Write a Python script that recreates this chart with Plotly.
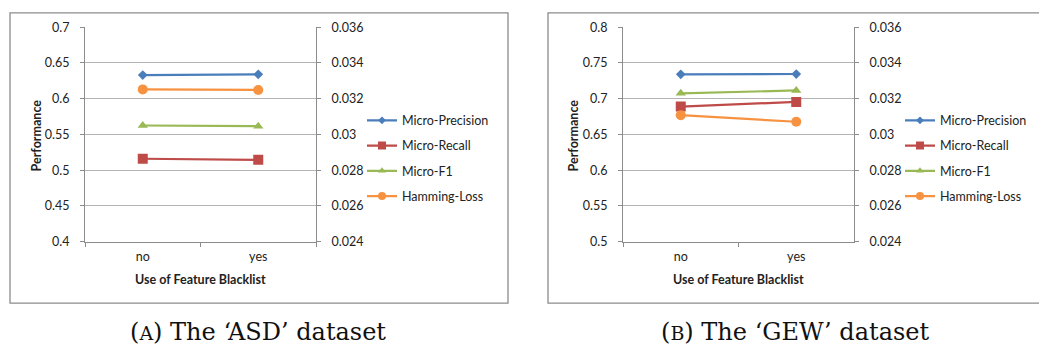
import plotly.graph_objects as go

W, H = 1039, 357

categories = ["no", "yes"]
series_names = ["Micro-Precision", "Micro-Recall", "Micro-F1", "Hamming-Loss"]

asd_precision = [0.633, 0.634]
asd_recall = [0.516, 0.5145]
asd_f1 = [0.5625, 0.5615]
asd_hamming = [0.03252, 0.03249]

gew_precision = [0.734, 0.7345]
gew_recall = [0.689, 0.6955]
gew_f1 = [0.7075, 0.7115]
gew_hamming = [0.03108, 0.03071]

asd_left_ticks = [0.4, 0.45, 0.5, 0.55, 0.6, 0.65, 0.7]
asd_left_labels = ["0.4", "0.45", "0.5", "0.55", "0.6", "0.65", "0.7"]
gew_left_ticks = [0.5, 0.55, 0.6, 0.65, 0.7, 0.75, 0.8]
gew_left_labels = ["0.5", "0.55", "0.6", "0.65", "0.7", "0.75", "0.8"]
right_ticks = [0.024, 0.026, 0.028, 0.030, 0.032, 0.034, 0.036]
right_labels = ["0.024", "0.026", "0.028", "0.03", "0.032", "0.034", "0.036"]

captions = ["(<span style='font-size:19px'>A</span>) The ‘ASD’ dataset",
            "(<span style='font-size:19px'>B</span>) The ‘GEW’ dataset"]
x_title = "Use of Feature Blacklist"
y_title = "Performance"

colors = ["#4A7EBB", "#BE4B48", "#98B954", "#F69240"]
symbols = ["diamond", "square", "triangle-up", "circle"]
sizes = [7.5, 10, 9, 10]
legend_sizes = [6, 8, 7, 8]

FONT = "Lato"
TXT = "#222222"
GRID = "#B3B3B3"
AXL = "#8C8C8C"

panels = [
    dict(series=[asd_precision, asd_recall, asd_f1, asd_hamming],
         lt=asd_left_ticks, ll=asd_left_labels,
         px0=85, px1=316, frame=(10, 508), legx=362, ytitle_x=36, caption_x=258),
    dict(series=[gew_precision, gew_recall, gew_f1, gew_hamming],
         lt=gew_left_ticks, ll=gew_left_labels,
         px0=623, px1=854, frame=(548, 1041), legx=900, ytitle_x=573, caption_x=795),
]

fig = go.Figure()
top, bot = 20, 244
ydom = [1 - bot / H, 1 - top / H]
annotations = []
shapes = []

for i, p in enumerate(panels):
    xa = "x" if i == 0 else "x2"
    ya_l = "y" if i == 0 else "y3"
    ya_r = "y2" if i == 0 else "y4"
    leg = "legend" if i == 0 else "legend2"
    for k, name in enumerate(series_names):
        fig.add_trace(go.Scatter(
            x=categories, y=p["series"][k], name=name, mode="lines+markers",
            line=dict(color=colors[k], width=2.2),
            marker=dict(symbol=symbols[k], size=sizes[k], color=colors[k]),
            xaxis=xa, yaxis=(ya_r if k == 3 else ya_l),
            showlegend=False,
        ))
        # legend entry with smaller marker (as in the original legend)
        fig.add_trace(go.Scatter(
            x=[None], y=[None], name=name, mode="lines+markers",
            line=dict(color=colors[k], width=2.2),
            marker=dict(symbol=symbols[k], size=legend_sizes[k], color=colors[k]),
            xaxis=xa, yaxis=(ya_r if k == 3 else ya_l),
            legend=leg, legendgroup=f"{i}{k}", showlegend=True, hoverinfo="skip",
        ))
    xdom = [p["px0"] / W, p["px1"] / W]
    n = "" if i == 0 else "2"
    nl = "" if i == 0 else "3"
    nr = "2" if i == 0 else "4"
    fig.update_layout(**{
        f"xaxis{n}": dict(domain=xdom, type="category", categoryorder="array",
                          categoryarray=categories, range=[-0.5, 1.5],
                          tickson="boundaries", ticks="outside", ticklen=4,
                          tickcolor=AXL, showline=True, linecolor=AXL,
                          showgrid=False, anchor=ya_l, zeroline=False,
                          tickfont=dict(family=FONT, size=12.5, color=TXT),
                          ticklabelstandoff=3, fixedrange=True),
        f"yaxis{nl}": dict(domain=ydom, range=[p["lt"][0], p["lt"][-1]],
                           tickvals=p["lt"], ticktext=p["ll"], ticks="outside",
                           ticklen=4, tickcolor=AXL, showline=True, linecolor=AXL,
                           showgrid=True, gridcolor=GRID, gridwidth=1,
                           zeroline=False, anchor=xa,
                           tickfont=dict(family=FONT, size=12.5, color=TXT),
                           ticklabelstandoff=8),
        f"yaxis{nr}": dict(domain=ydom, range=[right_ticks[0], right_ticks[-1]],
                           tickvals=right_ticks, ticktext=right_labels,
                           overlaying=ya_l, side="right", anchor=xa,
                           ticks="outside", ticklen=4, tickcolor=AXL,
                           showline=True, linecolor=AXL, showgrid=False,
                           zeroline=False,
                           tickfont=dict(family=FONT, size=12.5, color=TXT),
                           ticklabelstandoff=8),
        leg: dict(x=p["legx"] / W, y=1 - 102 / H, xanchor="left", yanchor="top",
                  font=dict(family=FONT, size=12.5, color=TXT),
                  traceorder="grouped", tracegroupgap=6,
                  bgcolor="rgba(0,0,0,0)"),
    })
    annotations.append(dict(text=f"<b>{x_title}</b>", x=(p["px0"] + p["px1"]) / 2 / W,
                            y=1 - 283 / H, xref="paper", yref="paper", showarrow=False,
                            font=dict(family=FONT, size=12.5, color=TXT),
                            xanchor="center", yanchor="middle"))
    annotations.append(dict(text=f"<b>{y_title}</b>", x=p["ytitle_x"] / W,
                            y=1 - 133 / H, xref="paper", yref="paper", showarrow=False,
                            textangle=-90, font=dict(family=FONT, size=12.5, color=TXT),
                            xanchor="center", yanchor="middle"))
    annotations.append(dict(text=captions[i], x=p["caption_x"] / W, y=1 - 338 / H,
                            xref="paper", yref="paper", showarrow=False,
                            font=dict(family="DejaVu Serif", size=24, color="#111111"),
                            xanchor="center", yanchor="middle"))
    fx0, fx1 = p["frame"]
    shapes.append(dict(type="rect", xref="paper", yref="paper",
                       x0=fx0 / W, x1=fx1 / W, y0=1 - 308 / H, y1=1 - 5 / H,
                       line=dict(color="#8C8C8C", width=1.3), layer="below"))

fig.update_layout(width=W, height=H, margin=dict(l=0, r=0, t=0, b=0),
                  paper_bgcolor="white", plot_bgcolor="white",
                  annotations=annotations, shapes=shapes, hovermode=False)

fig.write_html("out.html", config={"displayModeBar": False},
               post_script="document.body.style.margin='0';document.body.style.overflow='hidden';")
